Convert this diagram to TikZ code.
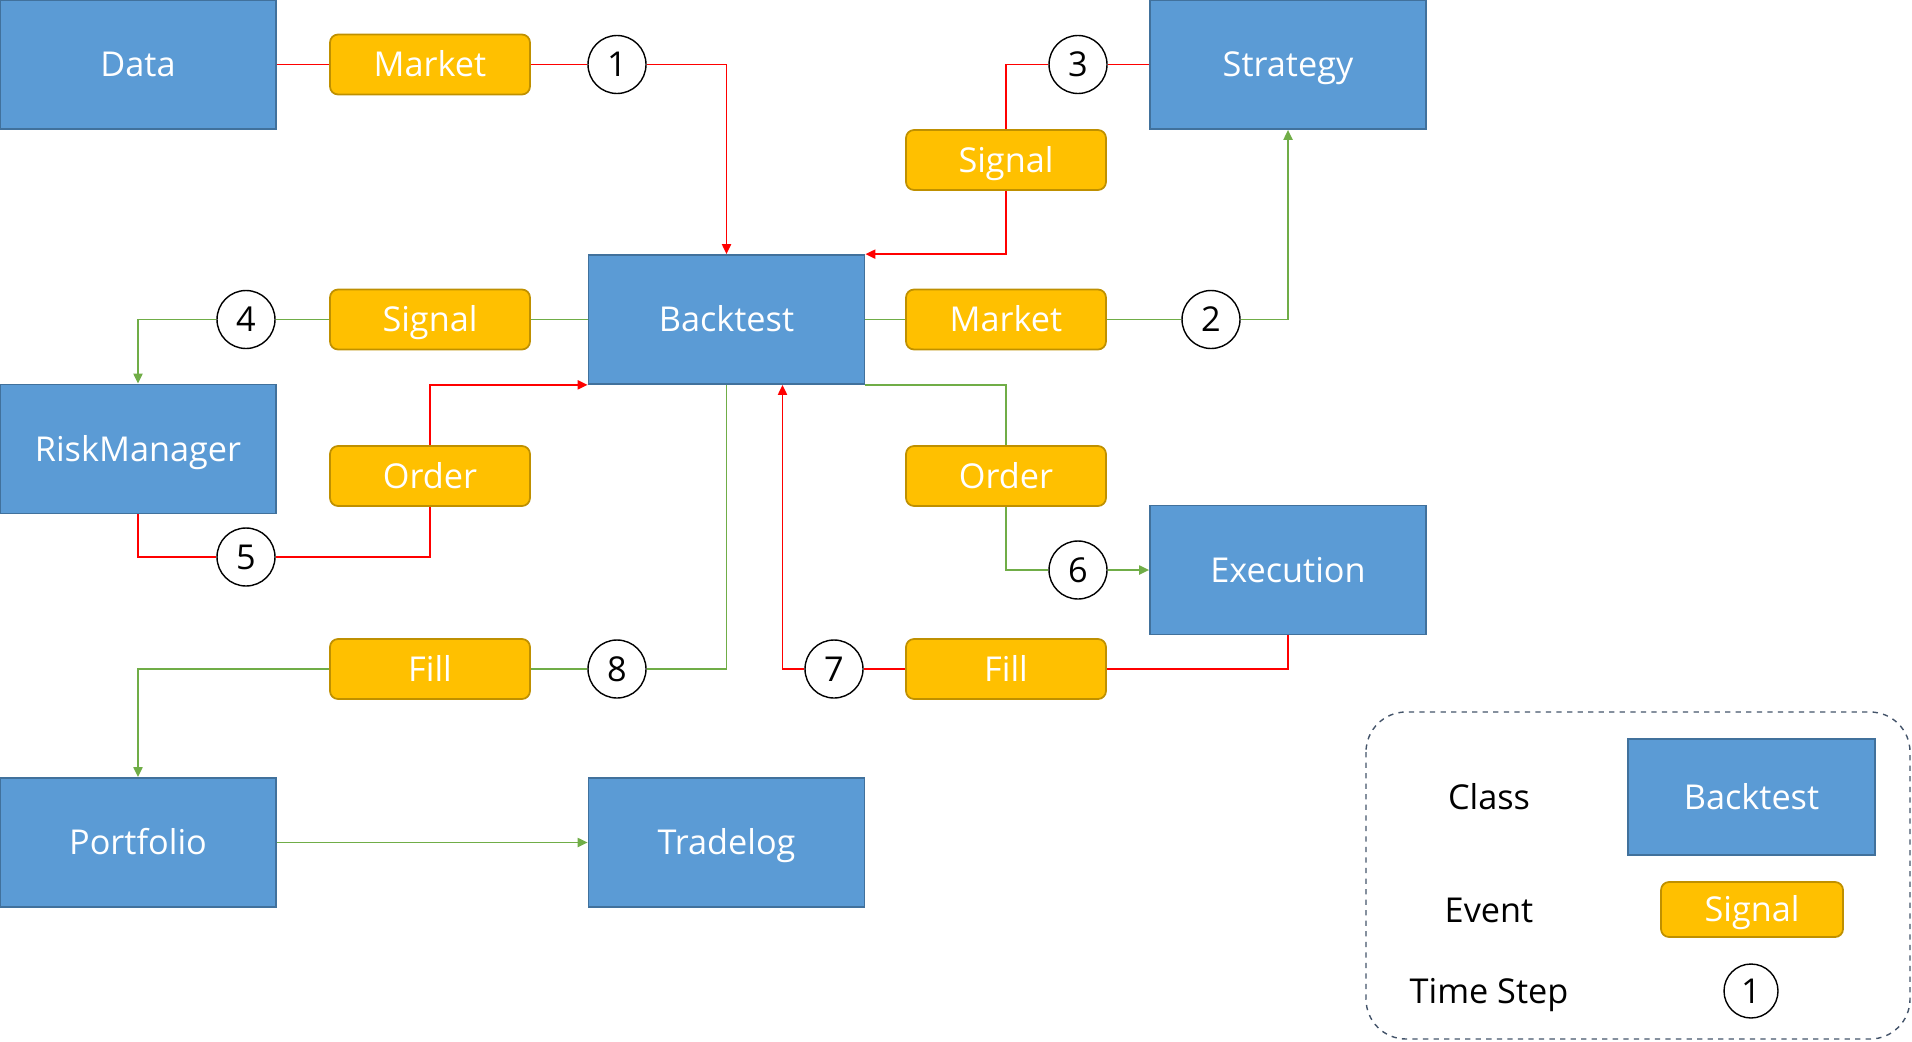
\documentclass[tikz,border=0pt]{standalone}
\usepackage{fontspec}
\setmainfont{Open Sans}
\usetikzlibrary{arrows.meta}

\definecolor{clsfill}{HTML}{5B9BD5}
\definecolor{clsline}{HTML}{41719C}
\definecolor{evtfill}{HTML}{FFC000}
\definecolor{evtline}{HTML}{BF9000}
\definecolor{redline}{HTML}{FF0000}
\definecolor{greenline}{HTML}{70AD47}
\definecolor{legline}{HTML}{44546A}

\begin{document}
\begin{tikzpicture}[x=0.02cm,y=-0.02cm,
    font=\fontsize{19.5}{23}\selectfont,
    every node/.style={text height=18pt,text depth=4pt},
    cls/.style={draw=clsline,fill=clsfill,line width=1pt,text=white,minimum width=5.52cm,minimum height=2.58cm,inner sep=0pt},
    evt/.style={draw=evtline,fill=evtfill,line width=1pt,text=white,rounded corners=0.16cm,minimum width=4cm,minimum height=1.2cm,inner sep=0pt},
    tstep/.style={draw,circle,fill=white,line width=0.8pt,minimum size=1.16cm,inner sep=0pt},
    red/.style={draw=redline,line width=1.1pt},
    grn/.style={draw=greenline,line width=1.1pt},
    tip/.style={-{Triangle[length=0.2cm,width=0.18cm]}}]
    \useasboundingbox (0,0) rectangle (1912,1041);

    \node[cls] (data) at (138,64.5) {Data};
    \node[cls] (strat) at (1288,64.5) {Strategy};
    \node[cls] (bt) at (726.5,319.5) {Backtest};
    \node[cls] (risk) at (138,449) {RiskManager};
    \node[cls] (exec) at (1288,570) {Execution};
    \node[cls] (port) at (138,842.5) {Portfolio};
    \node[cls] (trade) at (726.5,842.5) {Tradelog};

    \node[evt] (mkt1) at (430,64.5) {Market};
    \node[evt] (sig1) at (1006,160) {Signal};
    \node[evt] (sig2) at (430,319.5) {Signal};
    \node[evt] (mkt2) at (1006,319.5) {Market};
    \node[evt] (ord1) at (430,476) {Order};
    \node[evt] (ord2) at (1006,476) {Order};
    \node[evt] (fill1) at (430,669) {Fill};
    \node[evt] (fill2) at (1006,669) {Fill};

    \node[tstep] (t1) at (617,64.5) {1};
    \node[tstep] (t2) at (1211,319.5) {2};
    \node[tstep] (t3) at (1078,64.5) {3};
    \node[tstep] (t4) at (246,319.5) {4};
    \node[tstep] (t5) at (246,557) {5};
    \node[tstep] (t6) at (1078,570) {6};
    \node[tstep] (t7) at (834,669) {7};
    \node[tstep] (t8) at (617,669) {8};

    \draw[red] (data.east) -- (mkt1.west);
    \draw[red] (mkt1.east) -- (t1.west);
    \draw[red,tip] (t1.east) -| (bt.north);

    \draw[grn] (bt.east) -- (mkt2.west);
    \draw[grn] (mkt2.east) -- (t2.west);
    \draw[grn,tip] (t2.east) -| (strat.south);

    \draw[red] (strat.west) -- (t3.east);
    \draw[red] (t3.west) -| (sig1.north);
    \draw[red,tip] (sig1.south) |- (bt.north east);

    \draw[grn] (bt.west) -- (sig2.east);
    \draw[grn] (sig2.west) -- (t4.east);
    \draw[grn,tip] (t4.west) -| (risk.north);

    \draw[red] (risk.south) |- (t5.west);
    \draw[red] (t5.east) -| (ord1.south);
    \draw[red,tip] (ord1.north) |- (bt.south west);

    \draw[grn] (bt.south east) -| (ord2.north);
    \draw[grn] (ord2.south) |- (t6.west);
    \draw[grn,tip] (t6.east) -- (exec.west);

    \draw[red] (exec.south) |- (fill2.east);
    \draw[red] (fill2.west) -- (t7.east);
    \draw[red,tip] (t7.west) -| ([xshift=1.12cm]bt.south);

    \draw[grn] (bt.south) |- (t8.east);
    \draw[grn] (t8.west) -- (fill1.east);
    \draw[grn,tip] (fill1.west) -| (port.north);

    \draw[grn,tip] (port.east) -- (trade.west);

    \draw[legline,dashed,line width=0.8pt,rounded corners=0.8cm] (1366,712) rectangle (1910,1039);
    \node (lgcls) at (1489,797) {Class};
    \node[cls,minimum width=4.94cm,minimum height=2.32cm] (lgbt) at (1751.5,797) {Backtest};
    \node (lgevt) at (1489,910) {Event};
    \node[evt,minimum width=3.64cm,minimum height=1.1cm] (lgsig) at (1752,909.5) {Signal};
    \node (lgts) at (1489,991) {Time Step};
    \node[tstep,minimum size=1.08cm] (lgt) at (1751,991) {1};
\end{tikzpicture}
\end{document}
